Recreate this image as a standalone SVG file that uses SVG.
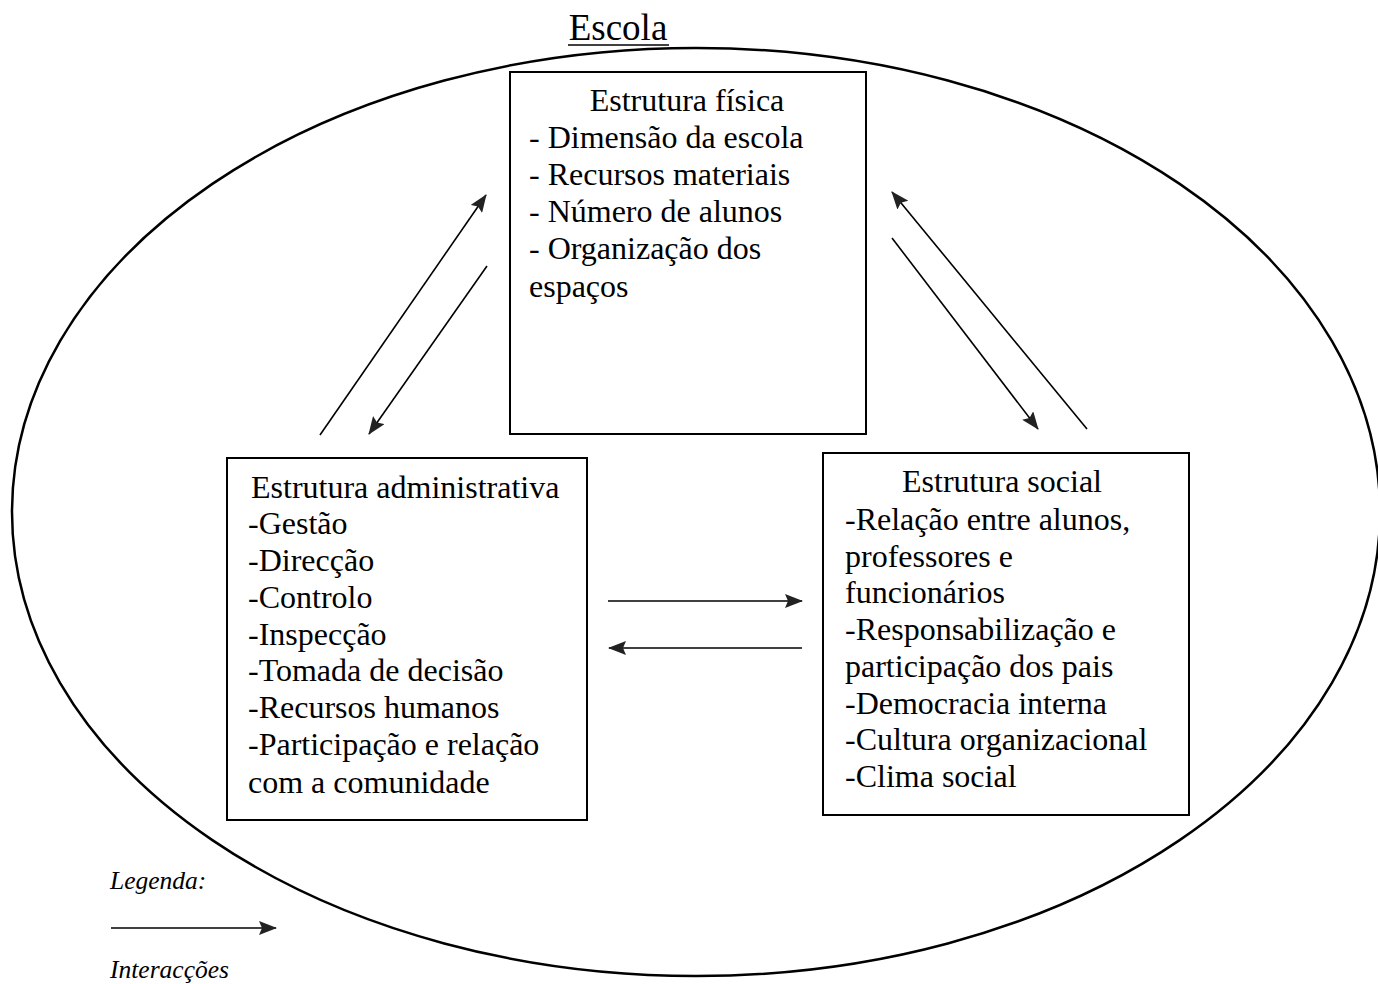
<svg xmlns="http://www.w3.org/2000/svg" width="1378" height="984" viewBox="0 0 1378 984">
<style>
.t{font-family:"Liberation Serif","Times New Roman",serif;font-size:32px;fill:#000}
.box{fill:none;stroke:#000;stroke-width:2}
.c{fill:none;stroke:#000;stroke-width:1.6}
.lg{font-family:"Liberation Serif","Times New Roman",serif;font-size:25.5px;font-style:italic;fill:#000}
</style>
<defs>
<marker id="ah" viewBox="0 0 18 14" refX="17" refY="7" markerWidth="18" markerHeight="14" markerUnits="userSpaceOnUse" orient="auto">
<path d="M0,0 L18,7 L0,14 L3,7 Z" fill="#222"/>
</marker>
</defs>
<rect width="1378" height="984" fill="#fff"/>
<g id="escola">
<ellipse cx="696" cy="512" rx="684" ry="464" fill="none" stroke="#000" stroke-width="2.5"/>
<text x="618" y="40" text-anchor="middle" class="t" style="font-size:37px">Escola</text>
<line x1="568" y1="45" x2="669" y2="45" stroke="#000" stroke-width="1.5"/>
</g>
<g id="estrutura-fisica">
<rect x="510" y="72" width="356" height="362" class="box"/>
<text class="t" x="687" y="111" text-anchor="middle">Estrutura física</text>
<text class="t" x="529" y="148">- Dimensão da escola</text>
<text class="t" x="529" y="185">- Recursos materiais</text>
<text class="t" x="529" y="222">- Número de alunos</text>
<text class="t" x="529" y="259">- Organização dos</text>
<text class="t" x="529" y="297">espaços</text>
</g>
<g id="estrutura-administrativa">
<rect x="227" y="458" width="360" height="362" class="box"/>
<text class="t" x="251" y="498">Estrutura administrativa</text>
<text class="t" x="248" y="534">-Gestão</text>
<text class="t" x="248" y="571">-Direcção</text>
<text class="t" x="248" y="608">-Controlo</text>
<text class="t" x="248" y="645">-Inspecção</text>
<text class="t" x="248" y="681">-Tomada de decisão</text>
<text class="t" x="248" y="718">-Recursos humanos</text>
<text class="t" x="248" y="755">-Participação e relação</text>
<text class="t" x="248" y="793">com a comunidade</text>
</g>
<g id="estrutura-social">
<rect x="823" y="453" width="366" height="362" class="box"/>
<text class="t" x="1002" y="492" text-anchor="middle">Estrutura social</text>
<text class="t" x="845" y="530">-Relação entre alunos,</text>
<text class="t" x="845" y="567">professores e</text>
<text class="t" x="845" y="603">funcionários</text>
<text class="t" x="845" y="640">-Responsabilização e</text>
<text class="t" x="845" y="677">participação dos pais</text>
<text class="t" x="845" y="714">-Democracia interna</text>
<text class="t" x="845" y="750">-Cultura organizacional</text>
<text class="t" x="845" y="787">-Clima social</text>
</g>
<g id="connectors">
<line class="c" x1="320" y1="435" x2="486" y2="195" marker-end="url(#ah)"/>
<line class="c" x1="487" y1="266" x2="369" y2="434" marker-end="url(#ah)"/>
<line class="c" x1="1087" y1="429" x2="892" y2="192" marker-end="url(#ah)"/>
<line class="c" x1="892" y1="238" x2="1038" y2="429" marker-end="url(#ah)"/>
<line class="c" x1="608" y1="601" x2="802" y2="601" marker-end="url(#ah)"/>
<line class="c" x1="802" y1="648" x2="609" y2="648" marker-end="url(#ah)"/>
</g>
<g id="legenda">
<text class="lg" x="110" y="889">Legenda:</text>
<line class="c" x1="111" y1="928" x2="276" y2="928" marker-end="url(#ah)"/>
<text class="lg" x="110" y="978">Interacções</text>
</g>
</svg>
